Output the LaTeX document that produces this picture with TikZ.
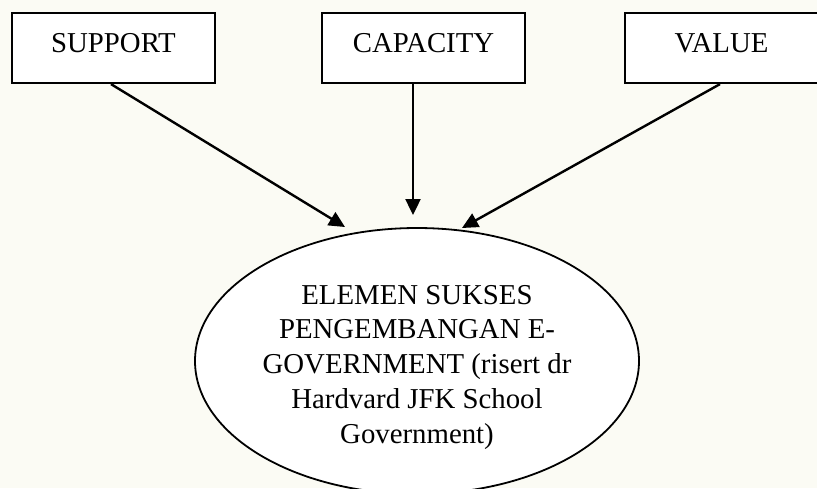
\documentclass[tikz,border=0pt]{standalone}
\usepackage{fontspec}
\setmainfont{Liberation Serif}
\usetikzlibrary{arrows.meta,shapes.geometric}
\definecolor{bgcream}{RGB}{251,251,244}
\tikzset{
  lbl/.style={draw=black, line width=2.2pt, fill=white, inner sep=0pt,
    minimum height=70pt, text height=39pt, text depth=31pt,
    font=\fontsize{28.8pt}{34.7pt}\selectfont},
  conn/.style={line width=2.4pt, -{Triangle[length=16pt,width=15pt]}},
}
\begin{document}
\begin{tikzpicture}[x=1pt,y=-1pt]
\fill[bgcream] (0,0) rectangle (817,488);
\useasboundingbox (0,0) rectangle (817,488);
\node[lbl, minimum width=203pt] (sup) at (113.5,48) {SUPPORT};
\node[lbl, minimum width=203pt] (cap) at (423.5,48) {CAPACITY};
\node[lbl, minimum width=193pt] (val) at (721.5,48) {VALUE};
\node[draw=black, line width=1.8pt, fill=white, ellipse, inner sep=0pt,
      minimum width=444pt, minimum height=266pt] (ell) at (417,361) {};
\node[anchor=north, inner sep=0pt, align=center,
      font=\fontsize{28.8pt}{34.7pt}\selectfont] (txt) at (417,285)
  {ELEMEN SUKSES\\PENGEMBANGAN E-\\GOVERNMENT (risert dr\\Hardvard JFK School\\Government)};
\coordinate (t1) at (345,227);
\coordinate (t2) at (413,215);
\coordinate (t3) at (462,228);
\draw[conn] ([xshift=-2.5pt]sup.south) -- (t1);
\draw[conn] ([xshift=-10.5pt]cap.south) -- (t2);
\draw[conn] ([xshift=-1.5pt]val.south) -- (t3);
\end{tikzpicture}
\end{document}
